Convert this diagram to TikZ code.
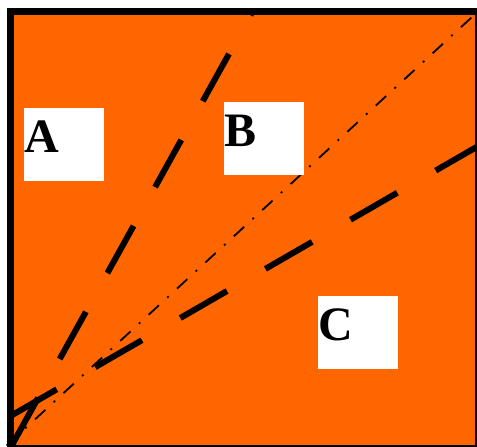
\documentclass[tikz,border=0pt]{standalone}
\usepackage{fontspec}
\setmainfont{Liberation Serif}
\usetikzlibrary{calc}
\definecolor{bgorange}{RGB}{255,102,0}
\tikzset{
  labelbox/.style={fill=white, draw=none, minimum width=80pt, minimum height=72.7pt, inner sep=0pt, anchor=north west},
  labeltext/.style={anchor=base west, inner sep=0pt, font=\fontsize{48}{48}\selectfont\bfseries},
  thickdash/.style={line width=6pt, dash pattern=on 54pt off 44.3pt},
  thindashdot/.style={line width=1.8pt, dash pattern=on 14pt off 11.3pt on 2pt off 11.3pt, dash phase=29.5pt},
  frame/.style={line width=7pt, draw=black}
}
\begin{document}
\begin{tikzpicture}[x=1pt,y=-1pt]
\useasboundingbox (0,0) rectangle (477,447);
% background
\fill[bgorange] (10.5,11.5) rectangle (478,448);
% corner / end coordinates
\coordinate (tr) at (478,11.5);
\coordinate (bl) at (5,447);
\coordinate (l1s) at (12,445);
\coordinate (l1e) at (252.5,11.5);
\coordinate (l2s) at (10,416.3);
\coordinate (l2e) at (480,145);
% lines
\draw[thindashdot] (tr) -- (bl);
\draw[thickdash] (l1s) -- (l1e);
\draw[thickdash] (l2s) -- (l2e);
% label boxes
\node[labelbox] (boxA) at (24,108) {};
\node[labelbox] (boxB) at (224,102) {};
\node[labelbox] (boxC) at (318,296) {};
\node[labeltext] (labA) at ($(boxA.north west)+(0.5,44.6)$) {A};
\node[labeltext] (labB) at ($(boxB.north west)+(0.5,44.2)$) {B};
\node[labeltext] (labC) at ($(boxC.north west)+(0.5,44.7)$) {C};
% frame
\draw[frame] (10.5,11.5) rectangle (478,448);
\end{tikzpicture}
\end{document}
